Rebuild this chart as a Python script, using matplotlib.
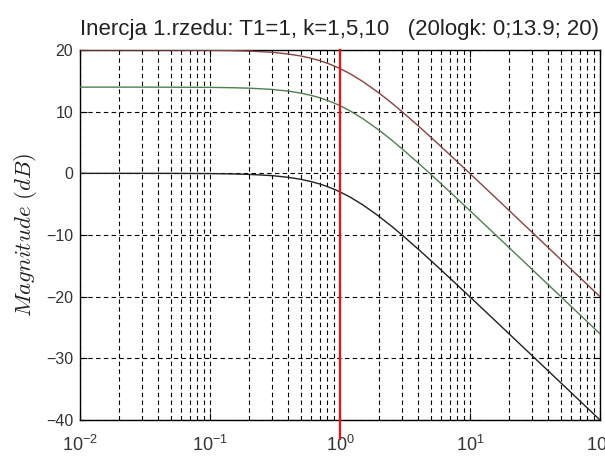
import matplotlib
matplotlib.use("Agg")
import matplotlib.pyplot as plt
from matplotlib.ticker import LogLocator, NullFormatter

# frequency points (rad/s) and magnitudes (dB)
w = [0.01, 0.03, 0.05, 0.1, 0.15, 0.2, 0.3, 0.4, 0.5, 0.6, 0.7, 0.8, 0.9,
     1.0, 1.2, 1.5, 1.8, 2.0, 2.5, 3.0, 4.0, 5.0, 6.0, 7.0, 8.0, 10.0,
     15.0, 20.0, 30.0, 50.0, 70.0, 100.0]
mag_k1 = [0.0, -0.004, -0.01, -0.04, -0.10, -0.17, -0.37, -0.65, -0.97, -1.34,
          -1.73, -2.15, -2.58, -3.01, -3.87, -5.12, -6.30, -6.99, -8.60, -10.0,
          -12.30, -14.15, -15.68, -16.99, -18.13, -20.04, -23.54, -26.03,
          -29.55, -33.98, -36.90, -40.0]
mag_k5 = [13.98, 13.98, 13.97, 13.94, 13.88, 13.81, 13.61, 13.33, 13.01, 12.64,
          12.25, 11.83, 11.40, 10.97, 10.11, 8.86, 7.68, 6.99, 5.38, 3.98,
          1.68, -0.17, -1.70, -3.01, -4.15, -6.06, -9.56, -12.05, -15.57,
          -20.00, -22.92, -26.02]
mag_k10 = [20.0, 20.0, 19.99, 19.96, 19.90, 19.83, 19.63, 19.35, 19.03, 18.66,
           18.27, 17.85, 17.42, 16.99, 16.13, 14.88, 13.70, 13.01, 11.40, 10.0,
           7.70, 5.85, 4.32, 3.01, 1.87, -0.04, -3.54, -6.03, -9.55, -13.98,
           -16.90, -20.0]

corner_w = 1.0
ylim = (-40, 20)
yticks = [-40, -30, -20, -10, 0, 10, 20]
xticks = [0.01, 0.1, 1, 10, 100]
xticklabels = [r"$10^{-2}$", r"$10^{-1}$", r"$10^{0}$", r"$10^{1}$", r"$10^{2}$"]

plt.rcParams["font.family"] = "Liberation Sans"
plt.rcParams["mathtext.default"] = "regular"

fig = plt.figure(figsize=(6.05, 4.61), dpi=100)
ax = fig.add_axes([80 / 605, 1 - 420 / 461, 520 / 605, 370 / 461])

grid_ls = (0, (4, 3))
ax.plot(w, mag_k10, color="#8a4040", lw=1.0, zorder=3)
ax.plot(w, mag_k5, color="#4f7f4f", lw=1.0, zorder=3)
ax.plot(w, mag_k1, color="#202020", lw=1.0, zorder=3)
ax.plot([corner_w, corner_w], [ylim[1], -43], color="#ee1111", lw=1.6,
        clip_on=False, zorder=4)

ax.set_xscale("log")
ax.set_xlim(0.01, 100)
ax.set_ylim(*ylim)
ax.set_yticks(yticks)
ax.set_xticks(xticks)
ax.set_xticklabels(xticklabels)
ax.xaxis.set_minor_locator(LogLocator(base=10, subs=range(2, 10)))
ax.xaxis.set_minor_formatter(NullFormatter())

ax.grid(True, which="major", axis="both", color="black", lw=0.8, ls=grid_ls)
ax.grid(True, which="minor", axis="x", color="black", lw=0.8, ls=grid_ls)
ax.set_axisbelow(True)

ax.tick_params(which="both", direction="in", top=True, right=True,
               labelcolor="#333333")
ax.tick_params(axis="y", labelsize=11.5, pad=5)
ax.tick_params(axis="x", labelsize=13, pad=11)
ax.tick_params(which="major", length=5)
ax.tick_params(which="minor", length=3)
for s in ax.spines.values():
    s.set_linewidth(1.0)

ax.set_title("Inercja 1.rzedu: T1=1, k=1,5,10   (20logk: 0;13.9; 20)",
             fontsize=16, color="#222222", pad=11)
ax.set_ylabel(r"$\mathit{Magnitude\ (dB)}$", fontsize=16.5, color="#222222",
              labelpad=5, math_fontfamily="cm")

fig.savefig("out.png", dpi=100)
